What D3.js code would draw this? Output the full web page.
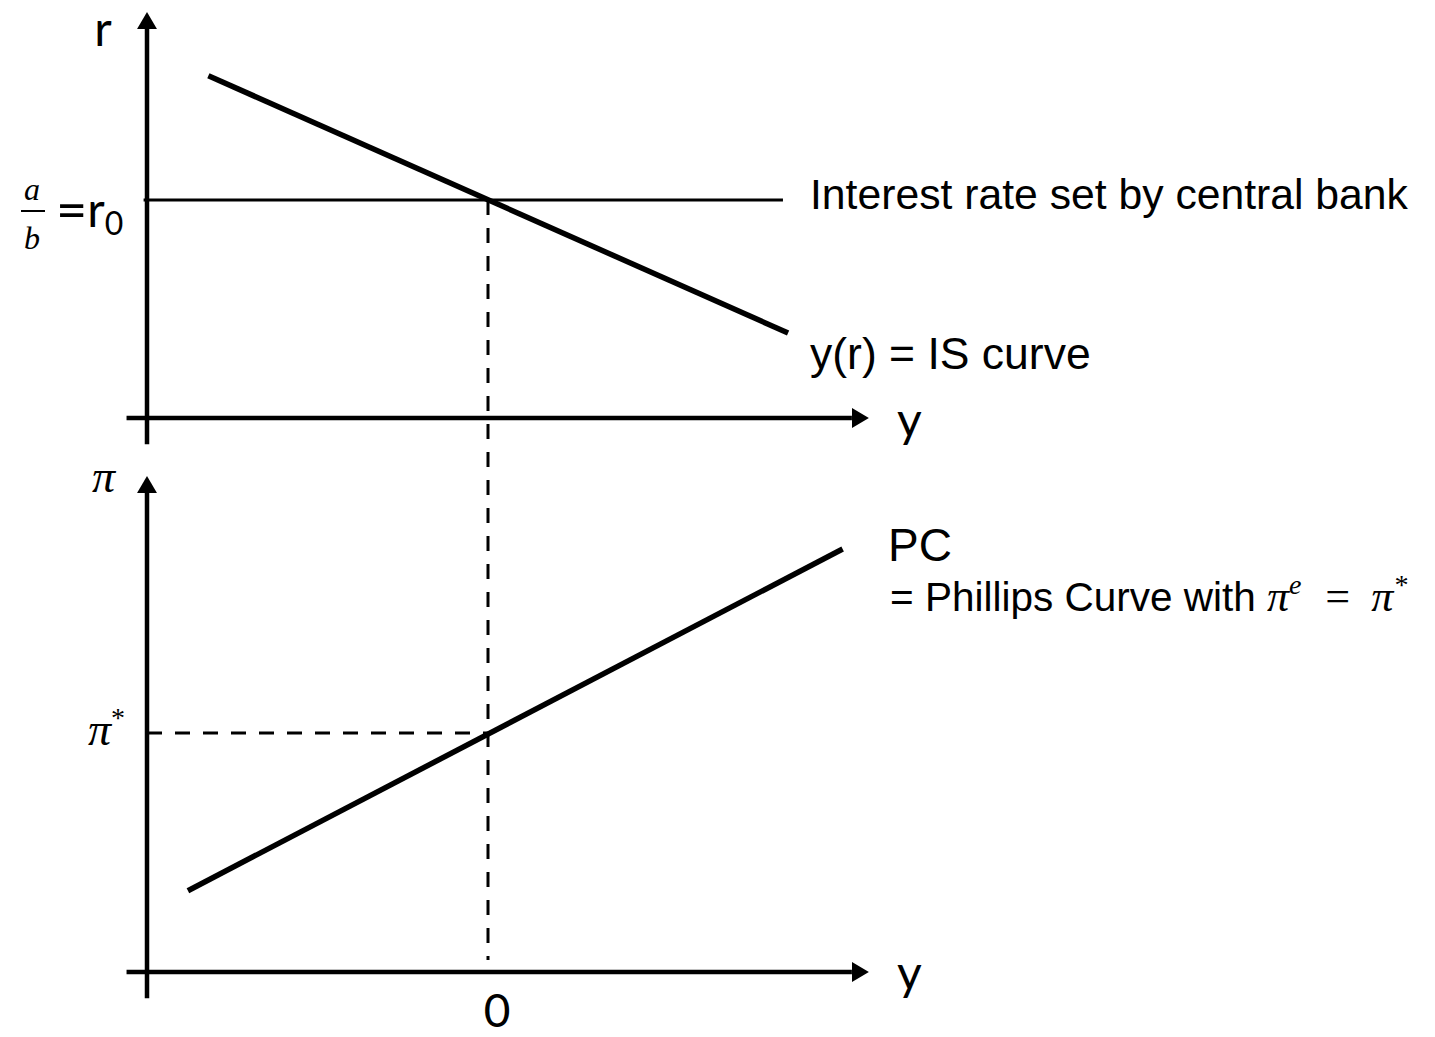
<!DOCTYPE html>
<html>
<head>
<meta charset="utf-8">
<script src="https://cdn.jsdelivr.net/npm/d3@7"></script>
<style>
  body { margin: 0; background: #fff; }
  .sans { font-family: "Liberation Sans", Arial, sans-serif; }
  .cal { font-family: Lato, "Open Sans", sans-serif; }
  .math { font-family: "Liberation Serif", "DejaVu Serif", serif; font-style: italic; }
</style>
</head>
<body>
<div id="chart"></div>
<script>
// output gap (horizontal) values
var axisY = [-1.06, 1.117];
var isY = [-0.82, 0.88];
var isR = [1.57, 0.39];
var pcY = [-0.88, 1.04];
var pcPi = [0.34, 1.77];

// vertical axes
var axisR = [-0.12, 1.862];
var axisPi = [-0.11, 2.075];

// policy rate and target
var r0 = 1;
var r0Line = [-1.01, 0.865];
var piStar = 1;
var yStar = 0;

var width = 1435, height = 1037;

var svg = d3.select("#chart")
  .append("svg")
    .attr("width", width)
    .attr("height", height);

var x = d3.scaleLinear().domain([-1, 0]).range([147, 488]);
var yR = d3.scaleLinear().domain([0, 1]).range([418, 200]);
var yPi = d3.scaleLinear().domain([0, 1]).range([972, 733]);

// arrow head
svg.append("defs").append("marker")
    .attr("id", "arrow")
    .attr("markerUnits", "userSpaceOnUse")
    .attr("markerWidth", 18)
    .attr("markerHeight", 20)
    .attr("refX", 0)
    .attr("refY", 10)
    .attr("orient", "auto")
  .append("path")
    .attr("d", "M0,0 L17,10 L0,20 Z")
    .attr("fill", "#000");

var ah = 17;

function axes(yScale, ext) {
  // horizontal
  svg.append("line")
    .attr("x1", x(axisY[0])).attr("x2", x(axisY[1]) - ah)
    .attr("y1", yScale(0)).attr("y2", yScale(0))
    .attr("stroke", "#000").attr("stroke-width", 4.5)
    .attr("marker-end", "url(#arrow)");
  // vertical
  svg.append("line")
    .attr("x1", x(-1)).attr("x2", x(-1))
    .attr("y1", yScale(ext[0])).attr("y2", yScale(ext[1]) + ah)
    .attr("stroke", "#000").attr("stroke-width", 4.5)
    .attr("marker-end", "url(#arrow)");
}

axes(yR, axisR);
axes(yPi, axisPi);

// interest rate line
svg.append("line")
  .attr("x1", x(r0Line[0])).attr("x2", x(r0Line[1]))
  .attr("y1", yR(r0)).attr("y2", yR(r0))
  .attr("stroke", "#000").attr("stroke-width", 3);

// dashed guides
svg.append("line")
  .attr("x1", x(yStar)).attr("x2", x(yStar))
  .attr("y1", yR(r0)).attr("y2", yPi(0.05))
  .attr("stroke", "#000").attr("stroke-width", 3)
  .attr("stroke-dasharray", "15,13");
svg.append("line")
  .attr("x1", x(-1)).attr("x2", x(yStar))
  .attr("y1", yPi(piStar)).attr("y2", yPi(piStar))
  .attr("stroke", "#000").attr("stroke-width", 3)
  .attr("stroke-dasharray", "15,13");

// IS curve
var isLine = d3.line()
  .x(function(d) { return x(d[0]); })
  .y(function(d) { return yR(d[1]); });
svg.append("path")
  .datum(d3.zip(isY, isR))
  .attr("d", isLine)
  .attr("stroke", "#000").attr("stroke-width", 5.5).attr("fill", "none");

// Phillips curve
var pcLine = d3.line()
  .x(function(d) { return x(d[0]); })
  .y(function(d) { return yPi(d[1]); });
svg.append("path")
  .datum(d3.zip(pcY, pcPi))
  .attr("d", pcLine)
  .attr("stroke", "#000").attr("stroke-width", 5.5).attr("fill", "none");

// labels
svg.append("text").attr("class", "cal").attr("x", 103).attr("y", 46)
  .attr("text-anchor", "middle").attr("font-size", 48).text("r");
svg.append("text").attr("class", "cal").attr("x", 897).attr("y", 437)
  .attr("font-size", 48).text("y");
svg.append("text").attr("class", "cal").attr("x", 897).attr("y", 990)
  .attr("font-size", 48).text("y");
svg.append("text").attr("class", "cal").attr("x", x(yStar) + 9).attr("y", 1027)
  .attr("text-anchor", "middle").attr("font-size", 46).text("0");

// a/b = r0
svg.append("text").attr("class", "math").attr("x", 32).attr("y", 200)
  .attr("text-anchor", "middle").attr("font-size", 32).text("a");
svg.append("line").attr("x1", 21).attr("x2", 45).attr("y1", 211).attr("y2", 211)
  .attr("stroke", "#000").attr("stroke-width", 2);
svg.append("text").attr("class", "math").attr("x", 32).attr("y", 249)
  .attr("text-anchor", "middle").attr("font-size", 32).text("b");
var r0t = svg.append("text").attr("class", "cal").attr("x", 56).attr("y", 227)
  .attr("font-size", 48);
r0t.append("tspan").attr("font-size", 54).attr("dy", 2).text("=");
r0t.append("tspan").attr("dy", -2).text("r");
r0t.append("tspan").attr("font-size", 32).attr("dy", 8).text("0");

// pi labels
svg.append("text").attr("class", "math").attr("x", 92).attr("y", 492)
  .attr("font-size", 46).text("π");
var ps = svg.append("text").attr("class", "math").attr("x", 88).attr("y", 745)
  .attr("font-size", 46);
ps.append("tspan").text("π");
ps.append("tspan").attr("font-style", "normal").attr("font-size", 28).attr("dy", -18).text("*");

svg.append("text").attr("class", "sans").attr("x", 810).attr("y", 209)
  .attr("font-size", 42.7).text("Interest rate set by central bank");
svg.append("text").attr("class", "sans").attr("x", 810).attr("y", 369)
  .attr("font-size", 44.5).text("y(r) = IS curve");
svg.append("text").attr("class", "sans").attr("x", 888).attr("y", 561)
  .attr("font-size", 46).text("PC");

var pct = svg.append("text").attr("x", 890).attr("y", 611).attr("font-size", 40.5);
pct.append("tspan").attr("class", "sans").text("= Phillips Curve with ");
pct.append("tspan").attr("class", "math").attr("font-size", 44).text("π");
pct.append("tspan").attr("class", "math").attr("font-size", 28).attr("dy", -17).text("e");
pct.append("tspan").attr("class", "math").attr("font-style", "normal").attr("font-size", 44)
  .attr("dy", 17).attr("dx", 10).text(" = ");
pct.append("tspan").attr("class", "math").attr("font-size", 44).attr("dx", 8).text("π");
pct.append("tspan").attr("class", "math").attr("font-style", "normal").attr("font-size", 28).attr("dy", -17).text("*");
</script>
</body>
</html>
